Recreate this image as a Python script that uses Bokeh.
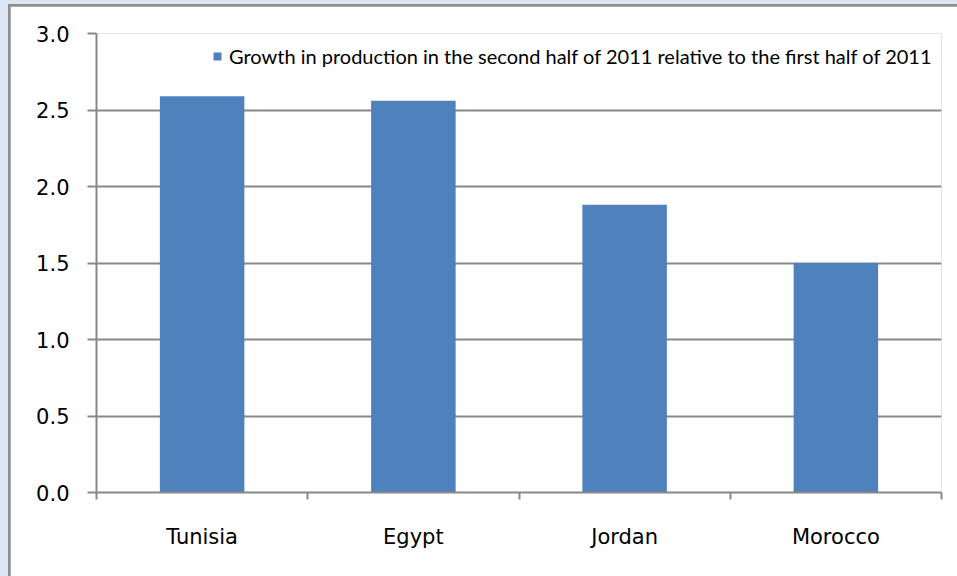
from bokeh.plotting import figure
from bokeh.models import FixedTicker, NumeralTickFormatter, ColumnDataSource, Legend, LegendItem
from bokeh.layouts import column
from bokeh.embed import file_html
from bokeh.resources import INLINE

categories = ["Tunisia", "Egypt", "Jordan", "Morocco"]
values = [2.59, 2.56, 1.88, 1.50]
y_ticks = [0.0, 0.5, 1.0, 1.5, 2.0, 2.5, 3.0]
series_name = "Growth in production in the second half of 2011 relative to the first half of 2011"

BAR = "#4F81BD"
GRID = "#888888"
OUTER = "#DCE6F2"
EDGE = "#8E8E8E"

centers = [i + 0.5 for i in range(len(categories))]
src = ColumnDataSource(dict(x=centers, top=values, cat=categories))

p = figure(width=947, height=570, output_backend="svg", toolbar_location=None,
           x_range=(0, len(categories)), y_range=(0, 3.0),
           min_border_left=86, min_border_right=16, min_border_top=27, min_border_bottom=84)
p.border_fill_color = "white"
p.background_fill_color = "white"
p.outline_line_color = None

r = p.vbar(x="x", top="top", width=0.4, source=src, color=BAR, line_color=None)

# y axis
yax = p.yaxis[0]
yax.ticker = FixedTicker(ticks=y_ticks)
yax.formatter = NumeralTickFormatter(format="0.0")
yax.axis_line_color = GRID
yax.axis_line_width = 2
yax.major_tick_line_color = GRID
yax.major_tick_line_width = 2
yax.major_tick_in = 0
yax.major_tick_out = 9
yax.minor_tick_line_color = None
yax.major_label_text_font = "DejaVu Sans"
yax.major_label_text_font_size = "21px"
yax.major_label_text_color = "black"
yax.major_label_standoff = 18

# x axis: category names at centres, ticks at category boundaries
xax = p.xaxis[0]
xax.ticker = FixedTicker(ticks=centers, minor_ticks=list(range(len(categories) + 1)))
xax.major_label_overrides = {c: n for c, n in zip(centers, categories)}
xax.axis_line_color = GRID
xax.axis_line_width = 2
xax.major_tick_line_color = None
xax.major_tick_in = 0
xax.major_tick_out = 0
xax.minor_tick_line_color = GRID
xax.minor_tick_line_width = 2
xax.minor_tick_in = 0
xax.minor_tick_out = 7
xax.major_label_text_font = "DejaVu Sans"
xax.major_label_text_font_size = "21px"
xax.major_label_text_color = "black"
xax.major_label_standoff = 25

p.xgrid.grid_line_color = None
p.ygrid.grid_line_color = GRID
p.ygrid.grid_line_width = 2

legend = Legend(items=[LegendItem(label=series_name, renderers=[r])],
                location=(116, 424))
legend.border_line_color = None
legend.background_fill_alpha = 0
legend.padding = 0
legend.margin = 0
legend.glyph_width = 10
legend.glyph_height = 10
legend.label_standoff = 7
legend.label_text_font = "Lato"
legend.label_text_font_size = "20px"
legend.label_text_color = "black"
p.add_layout(legend, "center")

p.margin = (2, 0, 0, 2)
inner = column(p, styles={"background-color": EDGE}, margin=(4, 0, 0, 8))
layout = column(inner, styles={"background-color": OUTER})

open("out.html", "w").write(file_html(layout, INLINE))
